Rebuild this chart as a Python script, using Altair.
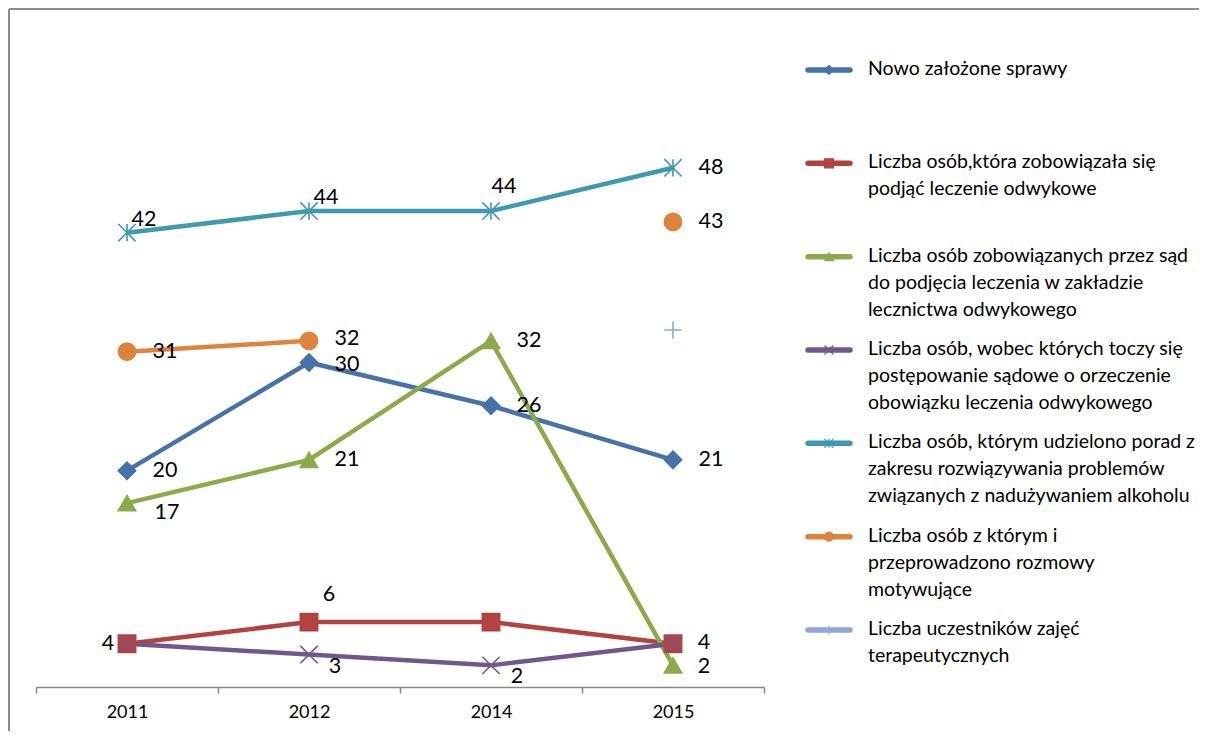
import altair as alt
import pandas as pd

YEARS = ["2011", "2012", "2014", "2015"]

SERIES = [
    "Nowo założone sprawy",
    "Liczba osób,która zobowiązała się\npodjąć leczenie odwykowe",
    "Liczba osób zobowiązanych przez sąd\ndo podjęcia leczenia w zakładzie\nlecznictwa odwykowego",
    "Liczba osób, wobec których toczy się\npostępowanie sądowe o orzeczenie\nobowiązku leczenia odwykowego",
    "Liczba osób, którym udzielono porad z\nzakresu rozwiązywania problemów\nzwiązanych z nadużywaniem alkoholu",
    "Liczba osób z którym i\nprzeprowadzono rozmowy\nmotywujące",
    "Liczba uczestników zajęć\nterapeutycznych",
]

V_NOWO = [20, 30, 26, 21]
V_ZOBOWIAZALA = [4, 6, 6, 4]
V_SAD = [17, 21, 32, 2]
V_TOCZY = [4, 3, 2, 4]
V_PORADY = [42, 44, 44, 48]
V_ROZMOWY = [31, 32, None, 43]
V_TERAPIA = [None, None, None, 33]
VALUES = [V_NOWO, V_ZOBOWIAZALA, V_SAD, V_TOCZY, V_PORADY, V_ROZMOWY, V_TERAPIA]

# label placement codes (style), "" = no label shown
LABEL_POS = [
    ["R", "R2", "R", "R"],
    ["L", "AR", "", "RN"],
    ["RB", "R", "R", "RN2"],
    ["", "BR", "BR", ""],
    ["A", "A", "A2", "R"],
    ["R", "R1", "", "R"],
    ["", "", "", ""],
]
OFFSETS = {
    "R": (38, 0), "R1": (38, -2), "R2": (38, 2), "RN": (31, -1), "RN2": (31, 2),
    "L": (-19, 0), "A": (17, -13), "A2": (13, -24),
    "AR": (20, -27), "BR": (26, 12), "RB": (40, 10),
}

COLORS = ["#4672A9", "#B14441", "#8BAB4B", "#71578E", "#3E99B1", "#DC843C", "#8EA8D6"]
X_PATH = "M-1,-1L1,1M-1,1L1,-1"
AST_PATH = "M-1,-1L1,1M-1,1L1,-1M0,-1L0,1"
PLUS_PATH = "M-1,0L1,0M0,-1L0,1"
SHAPES = ["diamond", "square", "triangle-up", X_PATH, AST_PATH, "circle", PLUS_PATH]
SIZES = [300, 300, 380, 220, 320, 360, 340]
LEG_SIZES = [80, 80, 90, 60, 60, 120, 70]

rows = []
for s, vals, poss in zip(SERIES, VALUES, LABEL_POS):
    for yr, v, p in zip(YEARS, vals, poss):
        rows.append({"series": s, "year": yr, "value": v, "pos": p})
df = pd.DataFrame(rows)
leg = pd.DataFrame({"series": SERIES})

color_scale = alt.Scale(domain=SERIES, range=COLORS)
shape_scale = alt.Scale(domain=SERIES, range=SHAPES)

x = alt.X(
    "year:O", sort=YEARS,
    scale=alt.Scale(type="band", paddingInner=0, paddingOuter=0),
    bandPosition=0.5,
    axis=alt.Axis(
        title=None, labelAngle=0, tickBand="extent",
        domainColor="#878787", domainWidth=1.5, tickColor="#878787", tickWidth=1.5,
        tickSize=6, labelFont="Lato", labelFontSize=18, labelColor="black", labelPadding=10,
    ),
)
y = alt.Y("value:Q", scale=alt.Scale(domain=[0, 60], nice=False, zero=True), axis=None)
color = alt.Color("series:N", scale=color_scale, legend=None)

base = alt.Chart(df)

lines = base.mark_line(strokeWidth=4.5, invalid="break-paths-show-domains").encode(
    x=x, y=y, color=color, detail="series:N"
)

points = base.transform_filter("isValid(datum.value)").mark_point(
    filled=True, strokeWidth=1.6, opacity=1
).encode(
    x=x, y=y,
    fill=alt.Fill("series:N", scale=color_scale, legend=None),
    stroke=alt.Stroke("series:N", scale=color_scale, legend=None),
    shape=alt.Shape("series:N", scale=shape_scale, legend=None),
    size=alt.Size("series:N", scale=alt.Scale(domain=SERIES, range=SIZES), legend=None),
)

label_layers = []
for code, (dx, dy) in OFFSETS.items():
    label_layers.append(
        base.transform_filter(f"datum.pos == '{code}'").mark_text(
            font="Lato", fontSize=21.5, color="black", dx=dx, dy=dy,
            align="center", baseline="middle",
        ).encode(x=x, y=y, text=alt.Text("value:Q", format="d"))
    )

ly = alt.Y("series:N", sort=SERIES,
           scale=alt.Scale(type="point", domain=SERIES, range=[32, 592], padding=0),
           axis=None)

leg_lines = alt.Chart(leg).mark_rule(strokeWidth=5.5, strokeCap="round").encode(
    x=alt.value(772), x2=alt.value(814), y=ly, color=color
)
leg_points = alt.Chart(leg).mark_point(filled=True, strokeWidth=1.2, opacity=1).encode(
    x=alt.value(793), y=ly,
    fill=alt.Fill("series:N", scale=color_scale, legend=None),
    stroke=alt.Stroke("series:N", scale=color_scale, legend=None),
    shape=alt.Shape("series:N", scale=shape_scale, legend=None),
    size=alt.Size("series:N", scale=alt.Scale(domain=SERIES, range=LEG_SIZES), legend=None),
)
leg_text = alt.Chart(leg).mark_text(
    font="Lato", fontSize=19.5, lineHeight=27, lineBreak="\n", align="left",
    baseline="top", dy=-10, color="black",
).encode(x=alt.value(832), y=ly, text="series:N")

frame_top = alt.Chart(leg).mark_rule(stroke="#8c8c8c", strokeWidth=2).encode(
    x=alt.value(-27), x2=alt.value(1500), y=alt.value(-29)
)
frame_left = alt.Chart(leg).mark_rule(stroke="#8c8c8c", strokeWidth=2).encode(
    x=alt.value(-27), y=alt.value(-29), y2=alt.value(2000)
)

chart = alt.layer(
    frame_top, frame_left, lines, points, *label_layers, leg_lines, leg_points, leg_text
).resolve_scale(
    y="independent", size="independent"
).properties(
    width=728, height=649,
    autosize=alt.AutoSizeParams(type="none"),
    padding={"left": 28, "top": 30, "right": 435, "bottom": 44},
).configure_view(stroke=None)

chart.save("out.html", embed_options={"renderer": "svg", "actions": False})
